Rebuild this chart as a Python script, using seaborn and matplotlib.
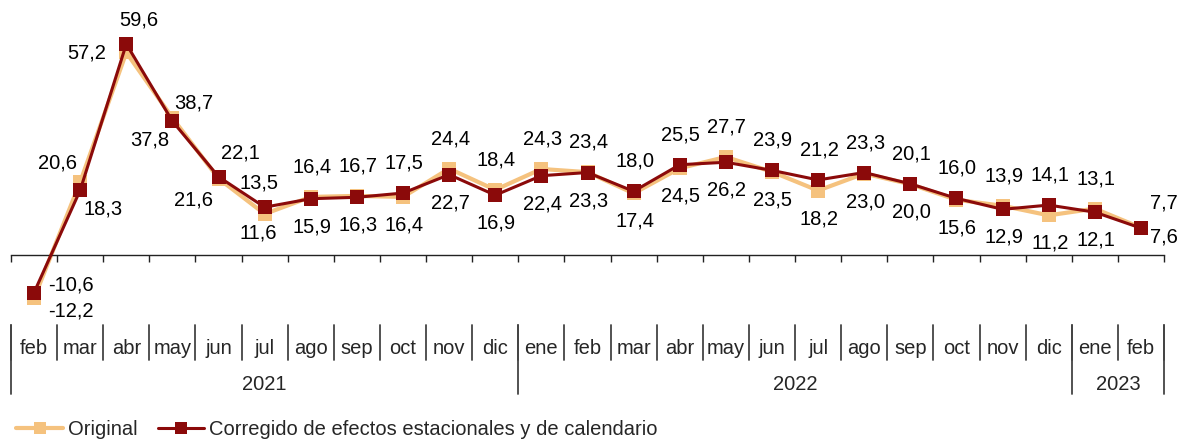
import numpy as np
import pandas as pd
import matplotlib
matplotlib.use("Agg")
import matplotlib.pyplot as plt
import seaborn as sns
from matplotlib.transforms import blended_transform_factory
from matplotlib.lines import Line2D

# ---- data ----
months = ["feb", "mar", "abr", "may", "jun", "jul", "ago", "sep", "oct", "nov", "dic",
          "ene", "feb", "mar", "abr", "may", "jun", "jul", "ago", "sep", "oct", "nov", "dic",
          "ene", "feb"]
years = ["2021", "2022", "2023"]
year_first = [0, 11, 23]
year_last = [10, 22, 24]
original = [-12.2, 20.6, 57.2, 38.7, 21.6, 11.6, 16.4, 16.7, 16.4, 24.4, 18.4, 24.3, 23.4,
            17.4, 24.5, 27.7, 23.5, 18.2, 23.0, 20.0, 15.6, 13.9, 11.2, 13.1, 7.7]
corregido = [-10.6, 18.3, 59.6, 37.8, 22.1, 13.5, 15.9, 16.3, 17.5, 22.7, 16.9, 22.4, 23.3,
             18.0, 25.5, 26.2, 23.9, 21.2, 23.3, 20.1, 16.0, 12.9, 14.1, 12.1, 7.6]
series_names = ["Original", "Corregido de efectos estacionales y de calendario"]

# ---- style ----
sns.set_theme(style="white")
plt.rcParams["font.family"] = ["Liberation Sans", "DejaVu Sans"]
FS = 14.5
C_ORIG = "#F5C27E"
C_CORR = "#8B0A0A"
GRID = "#444444"

W, H = 1183, 441
fig = plt.figure(figsize=(W / 100, H / 100), dpi=100)
left, right, top, bottom = 11, 1164, 5, 320
ax = fig.add_axes([left / W, 1 - bottom / H, (right - left) / W, (bottom - top) / H])

x = np.arange(len(months))
df = pd.DataFrame({"x": x, "orig": original, "corr": corregido})

sns.lineplot(data=df, x="x", y="orig", color=C_ORIG, linewidth=3.0, marker="s",
             markersize=10.5, markeredgewidth=0, ax=ax, zorder=2)
sns.lineplot(data=df, x="x", y="corr", color=C_CORR, linewidth=2.2, marker="s",
             markersize=10.5, markeredgewidth=0, ax=ax, zorder=3)

scale = (255 - 44) / 59.6
ax.set_xlim(-0.5, len(months) - 0.5)
ax.set_ylim(-(bottom - 255) / scale, (255 - top) / scale)
ax.set_xlabel("")
ax.set_ylabel("")
for s in ["top", "right", "left"]:
    ax.spines[s].set_visible(False)
ax.spines["bottom"].set_position(("data", 0))
ax.spines["bottom"].set_color("#222222")
ax.spines["bottom"].set_linewidth(1.0)
ax.set_xticks(np.arange(-0.5, len(months), 1.0))
ax.set_yticks([])
ax.tick_params(axis="x", direction="out", length=5, width=1, color="#222222",
               labelbottom=False, bottom=True)
ax.grid(False)

# ---- data labels ----
def fmt(v):
    return f"{v:.1f}".replace(".", ",")

up_off = {0: (37, 8), 1: (-23, 19), 2: (13, 24), 3: (21, 15), 4: (22, 24), 5: (-6, 24), 24: (23, 25)}
lo_off = {0: (37, -13), 1: (23, -19), 2: (-40, -1), 3: (-23, -19), 4: (-25, -21), 5: (-6, -19), 24: (23, -9)}
for i in range(len(months)):
    hi = max(original[i], corregido[i])
    lo = min(original[i], corregido[i])
    dx, dy = up_off.get(i, (1, 30))
    ax.annotate(fmt(hi), (i, hi), xytext=(dx, dy), textcoords="offset pixels",
                ha="center", va="center", fontsize=FS, color="black", zorder=5)
    dx, dy = lo_off.get(i, (1, -28))
    ax.annotate(fmt(lo), (i, lo), xytext=(dx, dy), textcoords="offset pixels",
                ha="center", va="center", fontsize=FS, color="black", zorder=5)

# ---- category table below ----
tr = blended_transform_factory(ax.transData, fig.transFigure)
y_top = 1 - 325 / H
y_mid = 1 - 360 / H
y_bot = 1 - 394 / H
for b in np.arange(-0.5, len(months), 1.0):
    fig.add_artist(Line2D([b, b], [y_top, y_mid], transform=tr, color=GRID, lw=1.3))
for b in [year_first[0] - 0.5] + [l + 0.5 for l in year_last]:
    fig.add_artist(Line2D([b, b], [y_top, y_bot], transform=tr, color=GRID, lw=1.3))
for i, m in enumerate(months):
    fig.text(i, 1 - 348 / H, m, transform=tr, ha="center", va="center", fontsize=FS)
for yr, a, b in zip(years, year_first, year_last):
    fig.text((a + b) / 2, 1 - 384 / H, yr, transform=tr, ha="center", va="center", fontsize=FS)

# ---- legend ----
handles = [Line2D([], [], color=C_ORIG, lw=3.0, marker="s", markersize=8, markeredgewidth=0),
           Line2D([], [], color=C_CORR, lw=2.2, marker="s", markersize=8, markeredgewidth=0)]
fig.legend(handles, series_names, loc="lower left", bbox_to_anchor=(0.002, -0.028), ncol=2,
           frameon=False, fontsize=FS, handlelength=2.3, handletextpad=0.25,
           columnspacing=1.0, borderpad=0.2)

fig.savefig("out.png", dpi=100, facecolor="white")
